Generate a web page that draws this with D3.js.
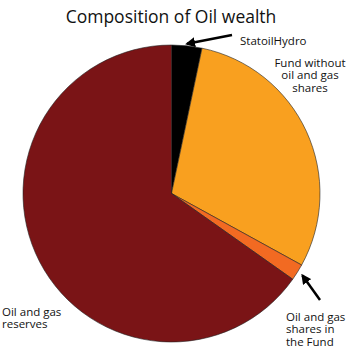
<!DOCTYPE html>
<html>
<head>
<meta charset="utf-8">
<script src="https://cdn.jsdelivr.net/npm/d3@7"></script>
<style>
  body { margin: 0; background: #fff; }
  text { font-family: "Open Sans", sans-serif; fill: #111; }
</style>
</head>
<body>
<div id="chart"></div>
<script>
// shares of oil wealth, percent
var categories = ["StatoilHydro", "Fund without oil and gas shares", "Oil and gas shares in the Fund", "Oil and gas reserves"];
var values = [3.3, 29.7, 1.8, 65.2];
var colors = ["#000000", "#f9a01f", "#f26a22", "#7a1416"];

var width = 350, height = 350;
var cx = 171.5, cy = 193.5, radius = 148.5;

var svg = d3.select("#chart").append("svg")
    .attr("width", width)
    .attr("height", height);

svg.append("defs").append("marker")
    .attr("id", "arrow")
    .attr("viewBox", "0 -5 10 10")
    .attr("refX", 8)
    .attr("refY", 0)
    .attr("markerWidth", 4)
    .attr("markerHeight", 4)
    .attr("orient", "auto")
  .append("path")
    .attr("d", "M0,-5L10,0L0,5Z")
    .attr("fill", "#000");

svg.append("text")
    .attr("x", 171)
    .attr("y", 23)
    .attr("text-anchor", "middle")
    .attr("font-size", "17.5px")
    .text("Composition of Oil wealth");

var pie = d3.pie().sort(null).value(function(d) { return d; });
var arc = d3.arc().innerRadius(0).outerRadius(radius);

var g = svg.append("g").attr("transform", "translate(" + cx + "," + cy + ")");

g.selectAll("path")
    .data(pie(values))
  .enter().append("path")
    .attr("d", arc)
    .attr("fill", function(d, i) { return colors[i]; })
    .attr("stroke", "#222")
    .attr("stroke-width", 0.6);

// labels: lines, anchor, x, first baseline
var labels = [
  {lines: ["StatoilHydro"], x: 240, y: 45, anchor: "start"},
  {lines: ["Fund without", "oil and gas", "shares"], x: 310, y: 67, anchor: "middle"},
  {lines: ["Oil and gas", "shares in", "the Fund"], x: 286, y: 321, anchor: "start"},
  {lines: ["Oil and gas", "reserves"], x: 2, y: 316, anchor: "start"}
];

labels.forEach(function(l) {
  var t = svg.append("text")
      .attr("x", l.x)
      .attr("y", l.y)
      .attr("text-anchor", l.anchor)
      .attr("font-size", "11.5px");
  l.lines.forEach(function(s, i) {
    t.append("tspan").attr("x", l.x).attr("dy", i == 0 ? 0 : 12.3).text(s);
  });
});

// arrows pointing at the two thin slices
function sliceEdge(i, extra) {
  var d = pie(values)[i];
  var a = (d.startAngle + d.endAngle) / 2;
  return [cx + Math.sin(a) * (radius + extra), cy - Math.cos(a) * (radius + extra)];
}
var tip1 = sliceEdge(0, 2), tip2 = sliceEdge(2, 6);
svg.append("line")
    .attr("x1", 232).attr("y1", 35)
    .attr("x2", tip1[0]).attr("y2", tip1[1])
    .attr("stroke", "#000").attr("stroke-width", 2.5)
    .attr("marker-end", "url(#arrow)");
svg.append("line")
    .attr("x1", 320).attr("y1", 300)
    .attr("x2", tip2[0]).attr("y2", tip2[1])
    .attr("stroke", "#000").attr("stroke-width", 2.5)
    .attr("marker-end", "url(#arrow)");
</script>
</body>
</html>
